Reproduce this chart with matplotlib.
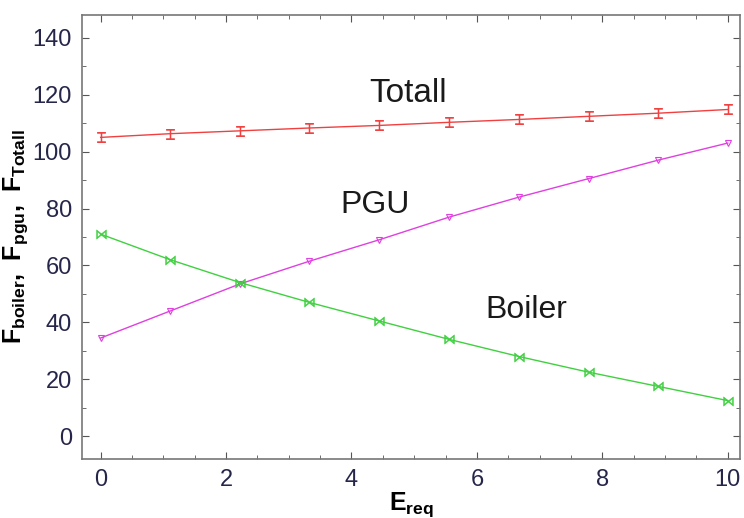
import numpy as np
import matplotlib
matplotlib.use("Agg")
import matplotlib.pyplot as plt
from matplotlib.ticker import MultipleLocator

plt.rcParams["font.family"] = ["Liberation Sans", "DejaVu Sans"]
plt.rcParams["mathtext.fontset"] = "custom"
plt.rcParams["mathtext.rm"] = "Liberation Sans"
plt.rcParams["mathtext.bf"] = "Liberation Sans:bold"

# E_req sample points (10 evenly spaced from 0 to 10)
e_req = [0.0, 1.11, 2.22, 3.33, 4.44, 5.56, 6.67, 7.78, 8.89, 10.0]
f_total = [105.0, 106.3, 107.3, 108.3, 109.2, 110.3, 111.3, 112.4, 113.5, 114.8]
f_pgu = [34.5, 44.0, 53.5, 61.5, 69.0, 77.0, 84.0, 90.5, 97.0, 103.0]
f_boiler = [71.0, 62.0, 54.0, 47.0, 40.5, 34.0, 28.0, 22.5, 17.5, 12.5]

tick_col = "#26264a"
fig = plt.figure(figsize=(7.44, 5.18), dpi=100)
ax = fig.add_axes([0.110, 0.114, 0.885, 0.857])

ax.plot(e_req, f_total, color="#f04040", lw=1, marker="$\u2336$", ms=7, mew=0.6)
ax.plot(e_req, f_pgu, color="#e040e0", lw=1, marker="v", ms=5, mfc="none", mew=0.8)
ax.plot(e_req, f_boiler, color="#40d040", lw=1, marker="$\u22c8$", ms=7, mew=0.4)

ax.text(4.9, 117.3, "Totall", fontsize=24, ha="center", va="baseline", color="#1a1a1a")
ax.text(4.38, 78.5, "PGU", fontsize=23, ha="center", va="baseline", color="#1a1a1a")
ax.text(6.78, 41.5, "Boiler", fontsize=23, ha="center", va="baseline", color="#1a1a1a")

ax.set_xlim(-0.3, 10.2)
ax.set_ylim(-8, 148)
ax.set_xticks([0, 2, 4, 6, 8, 10])
ax.set_yticks([0, 20, 40, 60, 80, 100, 120, 140])
ax.xaxis.set_minor_locator(MultipleLocator(0.5))
ax.yaxis.set_minor_locator(MultipleLocator(10))
ax.tick_params(which="both", direction="in", top=True, right=True, color="#555555")
ax.tick_params(which="major", length=5, labelsize=17, labelcolor=tick_col, pad=7)
ax.tick_params(which="minor", length=3)
for s in ax.spines.values():
    s.set_color("#777777")
    s.set_linewidth(1.2)

ax.set_xlabel(r"$\mathbf{E_{req}}$", fontsize=18, labelpad=0)
ax.set_ylabel(r"$\mathbf{F_{boiler},\ F_{pgu},\ F_{Totall}}$", fontsize=18, labelpad=2)

fig.savefig("out.png", dpi=100)
